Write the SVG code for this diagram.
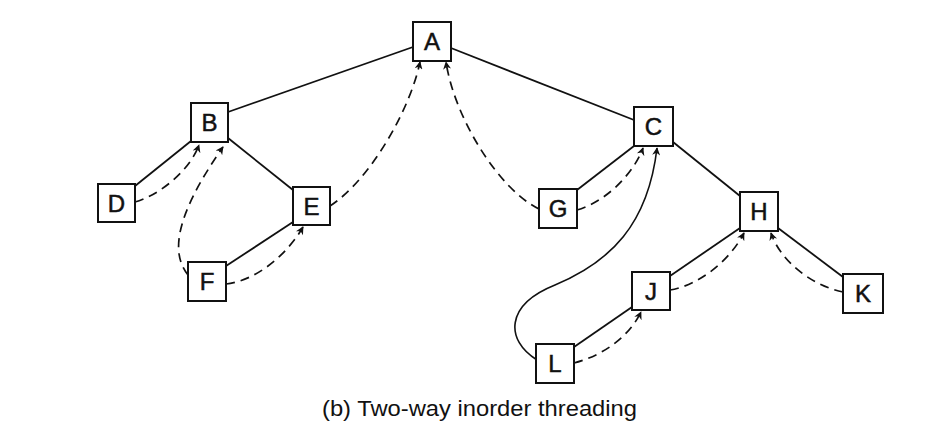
<svg xmlns="http://www.w3.org/2000/svg" width="936" height="434" viewBox="0 0 936 434">
<style>
.n rect{fill:#fff;stroke:#111;stroke-width:2}
.n text{font-family:"Liberation Sans",Arial,sans-serif;font-size:24px;fill:#111;stroke:#111;stroke-width:0.5;text-anchor:middle}
.e{stroke:#111;stroke-width:1.8;fill:none}
.t{stroke:#111;stroke-width:1.7;fill:none;stroke-dasharray:9 6;marker-end:url(#ah)}
.s{stroke:#111;stroke-width:1.6;fill:none;marker-end:url(#ah)}
.cap{font-family:"Liberation Sans",Arial,sans-serif;font-size:22px;fill:#111}
</style>
<defs>
<marker id="ah" viewBox="0 0 10 10" refX="9" refY="5" markerWidth="10" markerHeight="8" markerUnits="userSpaceOnUse" orient="auto">
<path d="M0,0 L10,5 L0,10 L3,5 Z" fill="#111"/>
</marker>
</defs>
<rect width="936" height="434" fill="#fff"/>
<g id="connectors">
<line class="e" x1="228" y1="112" x2="413" y2="47"/>
<line class="e" x1="451" y1="48" x2="634" y2="120"/>
<line class="e" x1="228" y1="138" x2="293" y2="190"/>
<line class="e" x1="191" y1="141" x2="135" y2="186"/>
<line class="e" x1="293" y1="222" x2="226" y2="266"/>
<line class="e" x1="673" y1="142" x2="740" y2="196"/>
<line class="e" x1="634" y1="146" x2="577" y2="190"/>
<line class="e" x1="740" y1="228" x2="670" y2="276"/>
<line class="e" x1="778" y1="228" x2="843" y2="277"/>
<line class="e" x1="632" y1="307" x2="574" y2="347"/>
<path class="t" d="M135,202 C160,195 190,170 199,145"/>
<path class="t" d="M188,275 C172,255 172,220 223,147"/>
<path class="t" d="M226,284 C260,280 290,250 303,227"/>
<path class="t" d="M330,206 C370,180 410,110 420,62"/>
<path class="t" d="M539,209 C500,190 455,120 446,62"/>
<path class="t" d="M577,210 C610,200 635,170 643,148"/>
<path class="s" d="M537,360 C505,340 505,305 555,285 C610,262 648,225 657,148"/>
<path class="t" d="M670,290 C700,285 730,260 744,233"/>
<path class="t" d="M843,292 C810,285 780,260 771,233"/>
<path class="t" d="M574,363 C605,355 630,335 641,312"/>
</g>
<g id="A" class="n"><rect x="413" y="22" width="38" height="39"/><text x="432" y="50">A</text></g>
<g id="B" class="n"><rect x="191" y="103" width="37" height="39"/><text x="209.5" y="131">B</text></g>
<g id="C" class="n"><rect x="634" y="107" width="39" height="39"/><text x="653.5" y="135">C</text></g>
<g id="D" class="n"><rect x="98" y="184" width="37" height="38"/><text x="116.5" y="212">D</text></g>
<g id="E" class="n"><rect x="293" y="187" width="37" height="38"/><text x="311.5" y="215">E</text></g>
<g id="F" class="n"><rect x="188" y="262" width="38" height="39"/><text x="207" y="290">F</text></g>
<g id="G" class="n"><rect x="539" y="189" width="38" height="39"/><text x="558" y="217">G</text></g>
<g id="H" class="n"><rect x="740" y="192" width="38" height="39"/><text x="759" y="220">H</text></g>
<g id="J" class="n"><rect x="632" y="272" width="38" height="38"/><text x="651" y="300">J</text></g>
<g id="K" class="n"><rect x="843" y="274" width="40" height="39"/><text x="863" y="302">K</text></g>
<g id="L" class="n"><rect x="536" y="344" width="38" height="39"/><text x="555" y="372">L</text></g>
<text class="cap" x="322" y="416" textLength="315" lengthAdjust="spacingAndGlyphs">(b) Two-way inorder threading</text>
</svg>
